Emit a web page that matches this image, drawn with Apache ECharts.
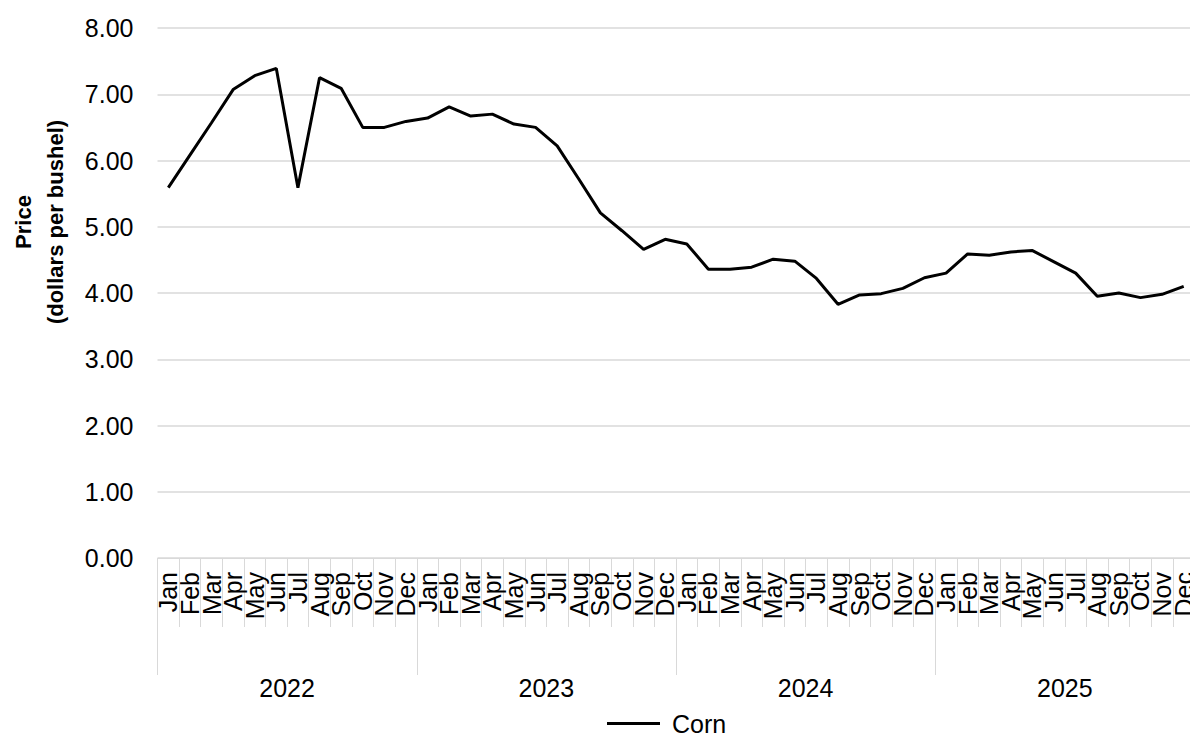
<!DOCTYPE html>
<html>
<head>
<meta charset="utf-8">
<script src="https://cdn.jsdelivr.net/npm/echarts@6/dist/echarts.min.js"></script>
<style>
html,body{margin:0;padding:0;background:#fff;}
#chart{width:1190px;height:735px;}
</style>
</head>
<body>
<div id="chart"></div>
<script>
const months = ['Jan','Feb','Mar','Apr','May','Jun','Jul','Aug','Sep','Oct','Nov','Dec'];
const years = ['2022','2023','2024','2025'];
const corn2022 = [5.59, 6.08, 6.57, 7.07, 7.28, 7.39, 5.59, 7.25, 7.09, 6.50, 6.50, 6.59];
const corn2023 = [6.64, 6.81, 6.67, 6.70, 6.55, 6.50, 6.22, 5.72, 5.21, 4.94, 4.66, 4.81];
const corn2024 = [4.74, 4.36, 4.36, 4.39, 4.51, 4.48, 4.22, 3.83, 3.97, 3.99, 4.07, 4.23];
const corn2025 = [4.30, 4.59, 4.57, 4.62, 4.64, 4.47, 4.30, 3.95, 4.00, 3.93, 3.98, 4.10];
const seriesName = 'Corn';
const yTitle = 'Price\n(dollars per bushel)';

const monthCats = [];
years.forEach(() => months.forEach(m => monthCats.push(m)));
const cornValues = [].concat(corn2022, corn2023, corn2024, corn2025);

const FONT = '"Liberation Sans", Arial, sans-serif';
const GRID = '#d9d9d9';

const chart = echarts.init(document.getElementById('chart'), null, {renderer: 'svg'});
chart.setOption({
  animation: false,
  backgroundColor: '#ffffff',
  grid: {left: 157.5, top: 28, width: 1037, height: 530, containLabel: false, outerBoundsMode: 'none'},
  legend: {
    left: 607, top: 711,
    padding: 0,
    icon: 'rect',
    itemWidth: 53, itemHeight: 3,
    data: [seriesName],
    itemStyle: {color: '#000'},
    textStyle: {fontFamily: FONT, fontSize: 25, lineHeight: 24, color: '#000', padding: [0, 0, 0, 7]}
  },
  graphic: [{
    type: 'text',
    x: 39, y: 222,
    rotation: Math.PI / 2,
    style: {
      text: yTitle,
      font: 'bold 22px ' + FONT,
      fill: '#000',
      align: 'center',
      verticalAlign: 'middle',
      lineHeight: 32
    }
  }],
  xAxis: [{
    type: 'category',
    position: 'bottom',
    data: monthCats,
    boundaryGap: true,
    axisLine: {show: true, lineStyle: {color: GRID, width: 1}},
    axisTick: {show: true, interval: 0, length: 69, lineStyle: {color: GRID, width: 1}},
    axisLabel: {interval: 0, rotate: 90, margin: 14, fontFamily: FONT, fontSize: 25, color: '#000'},
    splitLine: {show: false}
  }, {
    type: 'category',
    position: 'bottom',
    data: years,
    boundaryGap: true,
    axisLine: {show: false},
    axisTick: {show: true, interval: 0, length: 117, lineStyle: {color: GRID, width: 1}},
    axisLabel: {interval: 0, margin: 117, fontFamily: FONT, fontSize: 25, color: '#000'},
    splitLine: {show: false}
  }],
  yAxis: {
    type: 'value',
    min: 0, max: 8, interval: 1,
    axisLine: {show: false},
    axisTick: {show: false},
    axisLabel: {margin: 24, fontFamily: FONT, fontSize: 25, color: '#000',
      formatter: v => v.toFixed(2)},
    splitLine: {show: true, lineStyle: {color: GRID, width: 1.5}}
  },
  series: [{
    name: seriesName,
    type: 'line',
    xAxisIndex: 0,
    data: cornValues,
    symbol: 'none',
    showSymbol: false,
    lineStyle: {color: '#000', width: 3},
    itemStyle: {color: '#000'}
  }]
});
</script>
</body>
</html>
